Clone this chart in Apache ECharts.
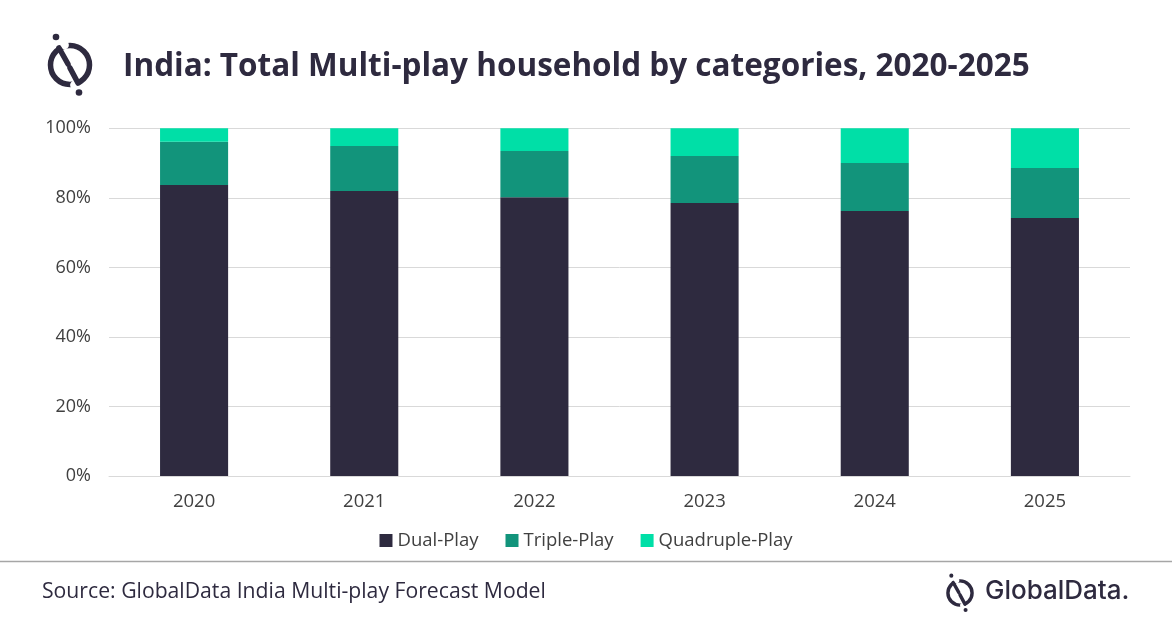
<!DOCTYPE html>
<html><head><meta charset="utf-8">
<script src="https://cdn.jsdelivr.net/npm/echarts@6/dist/echarts.min.js"></script>
<style>html,body{margin:0;padding:0;background:#fff}#c{width:1172px;height:628px}</style>
</head><body><div id="c"></div>
<script>
const categories = ['2020','2021','2022','2023','2024','2025'];
const dualPlay = [83.7, 82.0, 80.2, 78.5, 76.2, 74.2];
const triplePlay = [12.4, 12.9, 13.3, 13.5, 13.8, 14.4];
const quadruplePlay = [3.9, 5.1, 6.5, 8.0, 10.0, 11.4];
const yTicks = [0, 20, 40, 60, 80, 100];

const dark = '#2e2a3f';
const chart = echarts.init(document.getElementById('c'));
function logo(cx, cy, s, lw) {
  const r = 19.5 * s;
  const P = (x, y) => [cx + (x - 70) * s, cy + (y - 65) * s];
  const a1 = P(59, 48), a2 = P(68, 64), b1 = P(70, 68), b2 = P(78, 83);
  const t = P(56, 37), b = P(79, 92.5);
  const g1 = P(64.5, 45), g2 = P(74.5, 85);
  return [
    {type:'circle', shape:{cx:cx, cy:cy, r:r}, style:{stroke:dark, lineWidth:lw, fill:null}},
    {type:'circle', shape:{cx:g1[0], cy:g1[1], r:lw*0.8}, style:{fill:'#fff'}},
    {type:'circle', shape:{cx:g2[0], cy:g2[1], r:lw*0.8}, style:{fill:'#fff'}},
    {type:'line', shape:{x1:a1[0], y1:a1[1], x2:a2[0], y2:a2[1]}, style:{stroke:dark, lineWidth:lw, lineCap:'round'}},
    {type:'line', shape:{x1:b1[0], y1:b1[1], x2:b2[0], y2:b2[1]}, style:{stroke:dark, lineWidth:lw, lineCap:'round'}},
    {type:'circle', shape:{cx:t[0], cy:t[1], r:lw*0.6}, style:{fill:dark}},
    {type:'circle', shape:{cx:b[0], cy:b[1], r:lw*0.6}, style:{fill:dark}}
  ];
}
chart.setOption({
  animation:false,
  grid:{left:109, right:42, top:128.3, bottom:152},
  xAxis:{type:'category', data:categories,
    axisLine:{lineStyle:{color:'#d9d9d9'}}, axisTick:{show:false},
    axisLabel:{color:'#404040', fontSize:18.5, fontFamily:'Open Sans', margin:16}},
  yAxis:{type:'value', min:0, max:100, interval:20,
    axisLabel:{formatter:function(v){return yTicks.indexOf(v)>=0? v+'%':'';}, color:'#404040', fontSize:18, fontFamily:'Open Sans', margin:18},
    splitLine:{lineStyle:{color:'#d9d9d9'}}, axisLine:{show:false}, axisTick:{show:false}},
  legend:{bottom:73, left:'center', itemWidth:13, itemHeight:13, itemGap:27, icon:'rect',
    textStyle:{color:'#404040', fontSize:18.5, fontFamily:'Open Sans'},
    data:['Dual-Play','Triple-Play','Quadruple-Play']},
  series:[
    {name:'Dual-Play', type:'bar', stack:'a', data:dualPlay, barWidth:'40%', itemStyle:{color:'#2e2a3f'}},
    {name:'Triple-Play', type:'bar', stack:'a', data:triplePlay, itemStyle:{color:'#12947b'}},
    {name:'Quadruple-Play', type:'bar', stack:'a', data:quadruplePlay, itemStyle:{color:'#00dfa7'}}
  ],
  graphic:[
    {type:'text', left:123, top:51, style:{text:'India: Total Multi-play household by categories, 2020-2025', fill:dark, font:'bold 31.5px "Open Sans"'}},
    {type:'line', shape:{x1:0, y1:561.5, x2:1172, y2:561.5}, style:{stroke:'#a6a6a6', lineWidth:1.5}},
    {type:'text', left:42, top:581, style:{text:'Source: GlobalData India Multi-play Forecast Model', fill:dark, font:'21.2px "Open Sans"'}},
    {type:'text', left:985, top:578, style:{text:'GlobalData.', fill:dark, font:'500 26px "Inter"'}},
    {type:'group', children: logo(70, 65, 1, 5.5)},
    {type:'group', children: logo(960, 593, 0.62, 3.4)}
  ]
});
</script></body></html>
